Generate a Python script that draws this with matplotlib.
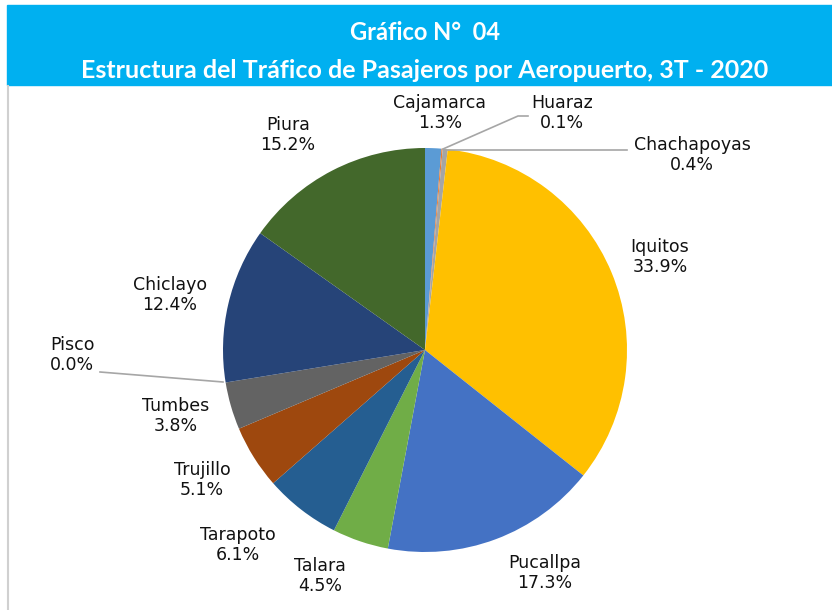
import matplotlib.pyplot as plt
from matplotlib.patches import Rectangle

airports = ["Cajamarca", "Huaraz", "Chachapoyas", "Iquitos", "Pucallpa", "Talara",
            "Tarapoto", "Trujillo", "Tumbes", "Pisco", "Chiclayo", "Piura"]
shares = [1.3, 0.1, 0.4, 33.9, 17.3, 4.5, 6.1, 5.1, 3.8, 0.0, 12.4, 15.2]
colors = ["#5B9BD5", "#ED7D31", "#A5A5A5", "#FFC000", "#4472C4", "#70AD47",
          "#255E91", "#9E480E", "#636363", "#997300", "#264478", "#43682B"]

# label centres in pixel coords (layout only)
label_pos = [(440, 113), (562, 113), (692, 155), (660, 257), (545, 573), (320, 576),
             (238, 545), (202, 480), (176, 416), (72, 355), (170, 295), (288, 135)]

W, H = 832, 610
fig = plt.figure(figsize=(W / 100, H / 100), dpi=100)
ax = fig.add_axes([0, 0, 1, 1])

def fy(y):
    return H - y

cx, cy, r = 425, fy(350), 202
ax.pie(shares, colors=colors, startangle=90, counterclock=False,
       center=(cx, cy), radius=r, frame=True,
       wedgeprops=dict(linewidth=0))
ax.set_xlim(0, W)
ax.set_ylim(0, H)
ax.set_aspect("equal")
ax.axis("off")

# header
ax.add_patch(Rectangle((7, fy(85)), W - 7, 80, color="#00B0F0", zorder=1))
ax.text(425, fy(32), "Gráfico N°  04", ha="center", va="center", color="white",
        fontsize=17, fontweight="bold", family="Lato")
ax.text(425, fy(71), "Estructura del Tráfico de Pasajeros por Aeropuerto, 3T - 2020",
        ha="center", va="center", color="white", fontsize=18, fontweight="bold", family="Lato")
ax.plot([8, 8], [fy(86), 0], color="#D0D0D0", lw=1.5)

for name, v, (x, y) in zip(airports, shares, label_pos):
    ax.text(x, fy(y), f"{name}\n{v:.1f}%", ha="center", va="center",
            fontsize=12.5, family="DejaVu Sans", color="#111111", linespacing=1.2)

# leader lines
ax.plot([443, 518, 528], [fy(149), fy(116), fy(116)], color="#A6A6A6", lw=1.2)
ax.plot([445, 627], [fy(150), fy(150)], color="#A6A6A6", lw=1.2)
ax.plot([223, 100], [fy(382), fy(372)], color="#A6A6A6", lw=1.2)

fig.savefig("out.png", dpi=100)
